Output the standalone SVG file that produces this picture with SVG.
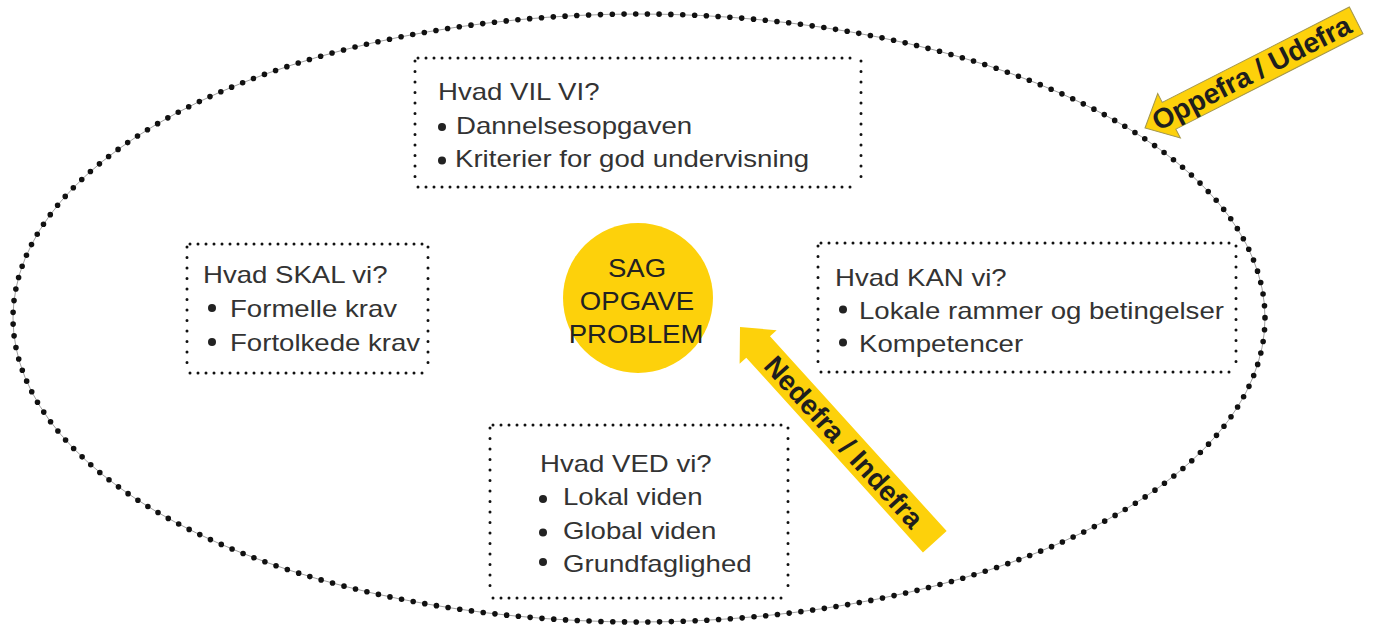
<svg xmlns="http://www.w3.org/2000/svg" width="1373" height="628" viewBox="0 0 1373 628">
<style>
.t{font-family:"Liberation Sans",Arial,sans-serif;font-size:23px;fill:#333}
.c{font-family:"Liberation Sans",Arial,sans-serif;font-size:26px;fill:#222;text-anchor:middle}
.a{font-family:"Liberation Sans",Arial,sans-serif;font-size:28px;font-weight:bold;fill:#1e1e1e;text-anchor:middle}
.hd{fill:none;stroke:#111;stroke-width:3;stroke-linecap:round;stroke-dasharray:0 8}
.vd{fill:none;stroke:#111;stroke-width:3;stroke-linecap:round;stroke-dasharray:0 10.5}
.b{fill:#222}
.y{fill:#FDD10B}
</style>
<rect width="1373" height="628" fill="#fff"/>
<g id="frame">
<ellipse cx="639" cy="318" rx="626" ry="304" fill="none" stroke="#888" stroke-width="0.8"/>
<ellipse cx="639" cy="318" rx="626" ry="304" fill="none" stroke="#111" stroke-width="5.6" stroke-linecap="round" stroke-dasharray="0 11.8"/>
</g>
<g id="node-vil">
<path class="hd" d="M418 58 H858 M418 187 H858"/>
<path class="vd" d="M415 61 V185 M861 61 V185"/>
<text class="t" transform="translate(438,100) scale(1.2,1)">Hvad VIL VI?</text>
<circle class="b" cx="442" cy="127" r="4"/>
<text class="t" transform="translate(456,133.5) scale(1.2,1)">Dannelsesopgaven</text>
<circle class="b" cx="442" cy="160.5" r="4"/>
<text class="t" transform="translate(455,167) scale(1.2,1)">Kriterier for god undervisning</text>
</g>
<g id="node-skal">
<path class="hd" d="M190 244 H425 M190 373 H425"/>
<path class="vd" d="M187 247 V370 M428 247 V370"/>
<text class="t" transform="translate(203,283) scale(1.2,1)">Hvad SKAL vi?</text>
<circle class="b" cx="212" cy="308" r="4"/>
<text class="t" transform="translate(230,317) scale(1.2,1)">Formelle krav</text>
<circle class="b" cx="212" cy="342" r="4"/>
<text class="t" transform="translate(230,350.5) scale(1.2,1)">Fortolkede krav</text>
</g>
<g id="node-kan">
<path class="hd" d="M821 243 H1233 M821 372 H1233"/>
<path class="vd" d="M818 246 V369 M1236 246 V369"/>
<text class="t" transform="translate(835,286) scale(1.2,1)">Hvad KAN vi?</text>
<circle class="b" cx="843" cy="309.5" r="4"/>
<text class="t" transform="translate(859,318.5) scale(1.2,1)">Lokale rammer og betingelser</text>
<circle class="b" cx="843" cy="342.5" r="4"/>
<text class="t" transform="translate(859,351.5) scale(1.2,1)">Kompetencer</text>
</g>
<g id="node-ved">
<path class="hd" d="M493 425 H785 M493 598 H785"/>
<path class="vd" d="M490 428 V595 M788 428 V595"/>
<text class="t" transform="translate(540,472) scale(1.2,1)">Hvad VED vi?</text>
<circle class="b" cx="543" cy="499" r="4"/>
<text class="t" transform="translate(563,505) scale(1.2,1)">Lokal viden</text>
<circle class="b" cx="543" cy="532.5" r="4"/>
<text class="t" transform="translate(563,538.5) scale(1.2,1)">Global viden</text>
<circle class="b" cx="543" cy="562" r="4"/>
<text class="t" transform="translate(563,572) scale(1.2,1)">Grundfaglighed</text>
</g>
<g id="node-center">
<circle class="y" cx="638" cy="298" r="75"/>
<text class="c" transform="translate(637,277) scale(1.06,1)">SAG</text>
<text class="c" transform="translate(637,310) scale(1.06,1)">OPGAVE</text>
<text class="c" transform="translate(636,343) scale(1.06,1)">PROBLEM</text>
</g>
<g id="connectors">
<g id="arrow-nedefra" transform="translate(740,327) rotate(47.8)">
<polygon class="y" points="0,0 27,-25 27,-16 290,-16 290,16 27,16 27,25"/>
<text class="a" x="155" y="10">Nedefra / Indefra</text>
</g>
<g id="arrow-oppefra" transform="translate(1145,128) rotate(-27)">
<polygon class="y" stroke="#a3964c" stroke-width="1" points="0,0 27,-25 27,-15 237,-15 237,15 27,15 27,25"/>
<text class="a" x="120" y="9">Oppefra / Udefra</text>
</g>
</g>
</svg>
